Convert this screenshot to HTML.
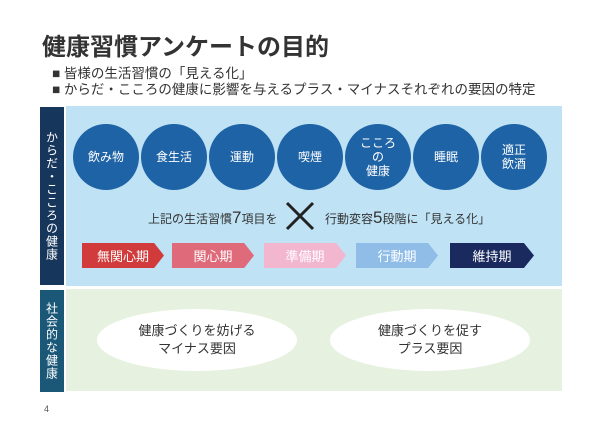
<!DOCTYPE html>
<html><head><meta charset="utf-8"><style>
body{margin:0;width:600px;height:424px;background:#fff;position:relative;overflow:hidden;font-family:"Liberation Sans","Noto Sans CJK JP",sans-serif;}
.a{position:absolute}
.c{position:absolute;width:66px;height:66px;border-radius:50%;background:#1e63a6;color:#fff;font-size:12px;display:flex;align-items:center;justify-content:center;text-align:center;line-height:14px}
.ar{position:absolute;top:243px;height:25px;font-size:13px;color:#fff;display:flex;align-items:center;justify-content:center;clip-path:polygon(0 0,88% 0,100% 50%,88% 100%,0 100%)}
.el{position:absolute;width:200px;height:62px;border-radius:50%;background:#fff;color:#333;font-size:13px;text-align:center;display:flex;align-items:center;justify-content:center;line-height:18px}
.v{position:absolute;color:#fff;font-size:12px;writing-mode:vertical-rl;letter-spacing:1px;display:flex;align-items:center;justify-content:center}
</style></head><body>
<div class="a" style="left:42px;top:27px;font-size:24px;font-weight:bold;color:#333">健康習慣アンケートの目的</div>
<div class="a" style="left:52px;top:66px;font-size:13.5px;color:#333;line-height:16px">■ 皆様の生活習慣の「見える化」<br>■ からだ・こころの健康に影響を与えるプラス・マイナスそれぞれの要因の特定</div>
<div class="v" style="left:40px;top:107px;width:24px;height:178px;background:#16365c">からだ・こころの健康</div>
<div class="a" style="left:66px;top:106px;width:496px;height:180px;background:#bfe3f5"></div>
<div class="v" style="left:40px;top:290px;width:24px;height:102px;background:#1b5878">社会的な健康</div>
<div class="a" style="left:66px;top:289px;width:496px;height:102px;background:#e6f1df"></div>
<div class="c" style="left:73px;top:124px">飲み物</div>
<div class="c" style="left:141px;top:124px">食生活</div>
<div class="c" style="left:209px;top:124px">運動</div>
<div class="c" style="left:277px;top:124px">喫煙</div>
<div class="c" style="left:345px;top:124px">こころ<br>の<br>健康</div>
<div class="c" style="left:413px;top:124px">睡眠</div>
<div class="c" style="left:481px;top:124px">適正<br>飲酒</div>
<div class="a" style="left:148px;top:208px;font-size:12px;color:#333">上記の生活習慣<span style="font-size:17px">7</span>項目を</div>
<svg class="a" style="left:284px;top:200px" width="32" height="32"><path d="M3 3L29 29M29 3L3 29" stroke="#222" stroke-width="3"/></svg>
<div class="a" style="left:325px;top:208px;font-size:12px;color:#333">行動変容<span style="font-size:17px">5</span>段階に「見える化」</div>
<div class="ar" style="left:82px;width:82px;background:#d13b3b">無関心期</div>
<div class="ar" style="left:172px;width:82px;background:#df6a7a">関心期</div>
<div class="ar" style="left:264px;width:82px;background:#f2b6cf">準備期</div>
<div class="ar" style="left:356px;width:82px;background:#8fbde8">行動期</div>
<div class="ar" style="left:450px;width:84px;background:#1a2a5e">維持期</div>
<div class="el" style="left:97px;top:309px">健康づくりを妨げる<br>マイナス要因</div>
<div class="el" style="left:330px;top:309px">健康づくりを促す<br>プラス要因</div>
<div class="a" style="left:44px;top:404px;font-size:9px;color:#555">4</div>
</body></html>
